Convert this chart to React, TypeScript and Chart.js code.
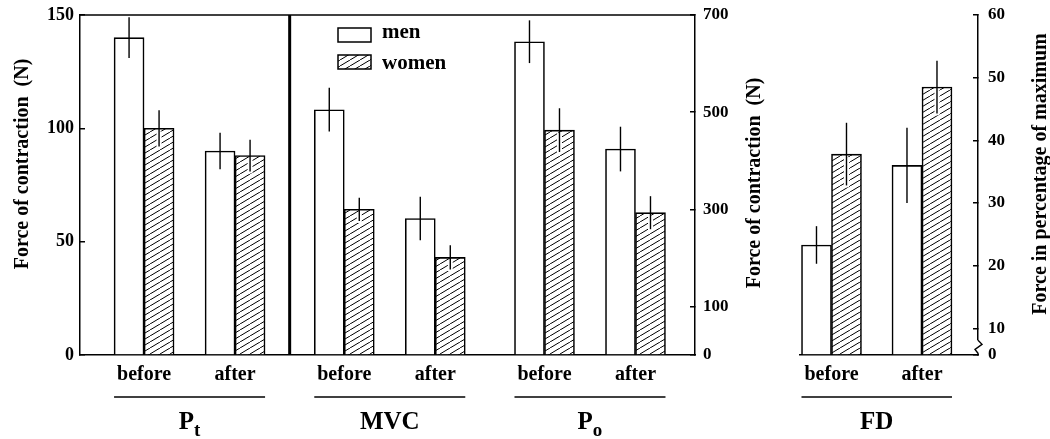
import React, { useEffect, useRef } from 'react';
import { Chart, registerables } from 'chart.js';

Chart.register(...registerables);

// ---------- data ----------
const stages = ['before', 'after'];
const seriesNames = ['men', 'women'];
const panelNames = ['P', 'MVC', 'P', 'FD'];
const panelSubscripts = ['t', '', 'o', ''];

const ptMen = [140, 90];
const ptMenErr = [9, 8];
const ptWomen = [100, 88];
const ptWomenErr = [8, 7];

const mvcMen = [505, 281];
const mvcMenErr = [45, 45];
const mvcWomen = [300, 201];
const mvcWomenErr = [24, 25];

const poMen = [645, 424];
const poMenErr = [44, 46];
const poWomen = [463, 293];
const poWomenErr = [45, 34];

const fdMen = [23.3, 36];
const fdMenErr = [3, 6];
const fdWomen = [37.8, 48.5];
const fdWomenErr = [5, 4.2];

const leftTicks = [0, 50, 100, 150];
const rightTicks = [0, 100, 300, 500, 700];
const fdTicks = [10, 20, 30, 40, 50, 60];
const fdBreakFloor = 5.74; // axis value at the broken baseline, labelled "0"

const leftTitle = 'Force of contraction  (N)';
const rightTitle = 'Force of contraction  (N)';
const fdTitle = 'Force in percentage of maximum';

// ---------- style / layout ----------
const SERIF = "'Liberation Serif', 'Times New Roman', serif";
const INK = '#000';
const PANEL_GAP = 0.2; // extra space between panels, in stage units

const stageX = (panel: number, stage: number) => panel * (stages.length + PANEL_GAP) + stage;

function makeHatch(): CanvasPattern | string {
  const W = 10, H = 6;
  const c = document.createElement('canvas');
  c.width = W;
  c.height = H;
  const g = c.getContext('2d');
  if (!g) return '#fff';
  g.fillStyle = '#fff';
  g.fillRect(0, 0, W, H);
  g.strokeStyle = INK;
  g.lineWidth = 1;
  for (const [dx, dy] of [[0, 0], [-W, H], [W, -H]]) {
    g.beginPath();
    g.moveTo(dx, H + dy);
    g.lineTo(W + dx, dy);
    g.stroke();
  }
  return g.createPattern(c, 'repeat') || '#fff';
}

function barDataset(label: string, vals: number[], panel: number, yAxisID: string, fill: any, extra: any = {}) {
  return {
    label,
    data: vals.map((y, i) => ({ x: stageX(panel, i), y })),
    xAxisID: 'x',
    yAxisID,
    backgroundColor: fill,
    borderColor: INK,
    borderWidth: 1.6,
    barThickness: 30,
    borderSkipped: 'start',
    skipNull: true,
    ...extra,
  };
}

function yAxis(position: string, min: number, max: number, ticks: number[], width: number, padding: number, label?: (v: number) => string) {
  return {
    type: 'linear',
    position,
    min,
    max,
    bounds: 'data',
    afterBuildTicks: (s: any) => {
      s.ticks = ticks.map((v) => ({ value: v }));
    },
    afterFit: (s: any) => {
      s.width = width;
      s.paddingTop = 0;
      s.paddingBottom = 0;
    },
    ticks: {
      color: INK,
      padding,
      font: { family: SERIF, size: position === 'left' ? 18 : 17, weight: 'bold' },
      callback: (v: number) => (label ? label(v) : String(v)),
    },
    grid: { drawOnChartArea: false, drawTicks: true, tickLength: -5, color: INK, lineWidth: 1.5 },
    border: { display: true, color: INK, width: 1.5 },
  };
}

function xAxis(min: number, max: number) {
  return {
    type: 'linear',
    position: 'bottom',
    min,
    max,
    offset: false,
    bounds: 'data',
    afterFit: (s: any) => {
      s.height = 84;
      s.paddingLeft = 0;
      s.paddingRight = 0;
    },
    ticks: { display: false },
    grid: { display: false, offset: false },
    border: { display: true, color: INK, width: 1.5 },
  };
}

function errorBarPlugin(errors: number[][], hatched: boolean[]) {
  return {
    id: 'errorBars',
    afterDatasetsDraw(chart: any) {
      const ctx = chart.ctx;
      ctx.save();
      errors.forEach((errs, di) => {
        const meta = chart.getDatasetMeta(di);
        const yScale = chart.scales[meta.yAxisID];
        meta.data.forEach((el: any, j: number) => {
          const v = chart.data.datasets[di].data[j].y;
          const yTop = yScale.getPixelForValue(v + errs[j]);
          const yBot = yScale.getPixelForValue(v - errs[j]);
          const x = el.x;
          if (hatched[di]) {
            ctx.strokeStyle = '#fff';
            ctx.lineWidth = 5;
            ctx.beginPath();
            ctx.moveTo(x, el.y + 3);
            ctx.lineTo(x, yBot + 2);
            ctx.stroke();
          }
          ctx.strokeStyle = INK;
          ctx.lineWidth = 1.4;
          ctx.beginPath();
          ctx.moveTo(x, yTop);
          ctx.lineTo(x, yBot);
          ctx.stroke();
        });
      });
      ctx.restore();
    },
  };
}

type Panel = { men: number; women: number; slot: number; name: number };

function drawPanelLabels(chart: any, panels: Panel[]) {
  const ctx = chart.ctx;
  const xs = chart.scales.x;
  ctx.save();
  ctx.fillStyle = INK;
  ctx.strokeStyle = INK;
  panels.forEach((p) => {
    ctx.font = `bold 20px ${SERIF}`;
    ctx.textAlign = 'center';
    ctx.textBaseline = 'alphabetic';
    stages.forEach((s, i) => ctx.fillText(s, xs.getPixelForValue(stageX(p.slot, i)), 380));
    const men = chart.getDatasetMeta(p.men).data;
    const women = chart.getDatasetMeta(p.women).data;
    const left = men[0].x - men[0].width / 2;
    const lastW = women[women.length - 1];
    const right = lastW.x + lastW.width / 2;
    ctx.lineWidth = 1.3;
    ctx.beginPath();
    ctx.moveTo(left, 397);
    ctx.lineTo(right, 397);
    ctx.stroke();
    const mid = (left + right) / 2;
    const main = panelNames[p.name];
    const sub = panelSubscripts[p.name];
    ctx.font = `bold 25px ${SERIF}`;
    const wMain = ctx.measureText(main).width;
    ctx.font = `bold 19px ${SERIF}`;
    const wSub = sub ? ctx.measureText(sub).width : 0;
    const start = mid - (wMain + wSub) / 2;
    ctx.textAlign = 'left';
    ctx.font = `bold 25px ${SERIF}`;
    ctx.fillText(main, start, 429);
    if (sub) {
      ctx.font = `bold 19px ${SERIF}`;
      ctx.fillText(sub, start + wMain, 436);
    }
  });
  ctx.restore();
}

function drawVerticalTitle(ctx: CanvasRenderingContext2D, text: string, x: number, y: number) {
  ctx.save();
  ctx.translate(x, y);
  ctx.rotate(-Math.PI / 2);
  ctx.font = `bold 20px ${SERIF}`;
  ctx.fillStyle = INK;
  ctx.textAlign = 'center';
  ctx.textBaseline = 'middle';
  ctx.fillText(text, 0, 0);
  ctx.restore();
}

const baseOptions = (paddingLeft: number) => ({
  responsive: false,
  animation: false,
  devicePixelRatio: 1,
  events: [],
  layout: { padding: { top: 15, left: paddingLeft, right: 0, bottom: 0 }, autoPadding: false },
  plugins: { legend: { display: false }, tooltip: { enabled: false } },
});

export default function App() {
  const mainRef = useRef<HTMLCanvasElement>(null);
  const fdRef = useRef<HTMLCanvasElement>(null);

  useEffect(() => {
    const hatch = makeHatch();

    const mainPanels: Panel[] = [
      { men: 0, women: 1, slot: 0, name: 0 },
      { men: 2, women: 3, slot: 1, name: 1 },
      { men: 4, women: 5, slot: 2, name: 2 },
    ];

    const mainExtras = {
      id: 'mainExtras',
      afterDraw(chart: any) {
        const ctx = chart.ctx;
        const a = chart.chartArea;
        ctx.save();
        ctx.strokeStyle = INK;
        // top frame line
        ctx.lineWidth = 1.5;
        ctx.beginPath();
        ctx.moveTo(a.left, a.top);
        ctx.lineTo(a.right, a.top);
        ctx.stroke();
        // separator between the P_t axis and the MVC / P_o axis
        const ptW = chart.getDatasetMeta(1).data;
        const mvcM = chart.getDatasetMeta(2).data;
        const last = ptW[ptW.length - 1];
        const sepX = (last.x + last.width / 2 + mvcM[0].x - mvcM[0].width / 2) / 2;
        ctx.lineWidth = 3;
        ctx.beginPath();
        ctx.moveTo(sepX, a.top);
        ctx.lineTo(sepX, a.bottom);
        ctx.stroke();
        // legend
        const lx = a.left + 258;
        ctx.lineWidth = 1.5;
        ctx.fillStyle = '#fff';
        ctx.fillRect(lx, 28, 33, 14);
        ctx.strokeRect(lx, 28, 33, 14);
        ctx.fillStyle = hatch;
        ctx.fillRect(lx, 55, 33, 14);
        ctx.strokeRect(lx, 55, 33, 14);
        ctx.fillStyle = INK;
        ctx.font = `bold 21px ${SERIF}`;
        ctx.textAlign = 'left';
        ctx.textBaseline = 'alphabetic';
        ctx.fillText(seriesNames[0], lx + 44, 38);
        ctx.fillText(seriesNames[1], lx + 44, 69);
        ctx.restore();
        // axis titles
        const mid = (a.top + a.bottom) / 2;
        drawVerticalTitle(ctx, leftTitle, chart.scales.yL.left + 23, mid - 21);
        drawVerticalTitle(ctx, rightTitle, chart.scales.yR.left + 60, mid - 2);
        drawPanelLabels(chart, mainPanels);
      },
    };

    const main = new Chart(mainRef.current as HTMLCanvasElement, {
      type: 'bar',
      data: {
        datasets: [
          barDataset(seriesNames[0], ptMen, 0, 'yL', '#fff'),
          barDataset(seriesNames[1], ptWomen, 0, 'yL', hatch),
          barDataset(seriesNames[0], mvcMen, 1, 'yR', '#fff'),
          barDataset(seriesNames[1], mvcWomen, 1, 'yR', hatch),
          barDataset(seriesNames[0], poMen, 2, 'yR', '#fff'),
          barDataset(seriesNames[1], poWomen, 2, 'yR', hatch),
        ] as any,
      },
      options: {
        ...baseOptions(0),
        scales: {
          x: xAxis(-0.704, 6.054),
          yL: yAxis('left', 0, 150, leftTicks, 80, 11),
          yR: yAxis('right', 0, 700, rightTicks, 95, 13),
        } as any,
      },
      plugins: [
        errorBarPlugin([ptMenErr, ptWomenErr, mvcMenErr, mvcWomenErr, poMenErr, poWomenErr], [false, true, false, true, false, true]),
        mainExtras,
      ],
    } as any);

    const fdPanels: Panel[] = [{ men: 0, women: 1, slot: 0, name: 3 }];

    const fdExtras = {
      id: 'fdExtras',
      afterDraw(chart: any) {
        const ctx = chart.ctx;
        const a = chart.chartArea;
        const ys = chart.scales.yFD;
        const ax = ys.left;
        const yTop = ys.getPixelForValue(fdTicks[0]) + 12;
        ctx.save();
        // axis break
        ctx.fillStyle = '#fff';
        ctx.fillRect(ax - 3, yTop, 6, a.bottom - yTop - 1);
        ctx.strokeStyle = INK;
        ctx.lineWidth = 1.4;
        ctx.beginPath();
        ctx.moveTo(ax, yTop);
        ctx.lineTo(ax + 4, yTop + 4);
        ctx.lineTo(ax - 3, yTop + 9);
        ctx.lineTo(ax, yTop + 13);
        ctx.lineTo(ax, a.bottom);
        ctx.stroke();
        ctx.restore();
        drawVerticalTitle(ctx, fdTitle, ys.left + 63, (a.top + a.bottom) / 2 - 11);
        drawPanelLabels(chart, fdPanels);
      },
    };

    const fd = new Chart(fdRef.current as HTMLCanvasElement, {
      type: 'bar',
      data: {
        datasets: [
          barDataset(seriesNames[0], fdMen, 0, 'yFD', '#fff', { base: fdBreakFloor }),
          barDataset(seriesNames[1], fdWomen, 0, 'yFD', hatch, { base: fdBreakFloor }),
        ] as any,
      },
      options: {
        ...baseOptions(10),
        scales: {
          x: xAxis(-0.348, 1.619),
          yFD: yAxis('right', fdBreakFloor, 60, [fdBreakFloor, ...fdTicks], 72, 15, (v) => (v === fdBreakFloor ? '0' : String(v))),
        } as any,
      },
      plugins: [errorBarPlugin([fdMenErr, fdWomenErr], [false, true]), fdExtras],
    } as any);

    return () => {
      main.destroy();
      fd.destroy();
    };
  }, []);

  return (
    <div style={{ position: 'absolute', left: 0, top: 0, width: 1050, height: 439, background: '#fff' }}>
      <canvas ref={mainRef} width={790} height={439} style={{ position: 'absolute', left: 0, top: 0 }} />
      <canvas ref={fdRef} width={260} height={439} style={{ position: 'absolute', left: 790, top: 0 }} />
    </div>
  );
}
